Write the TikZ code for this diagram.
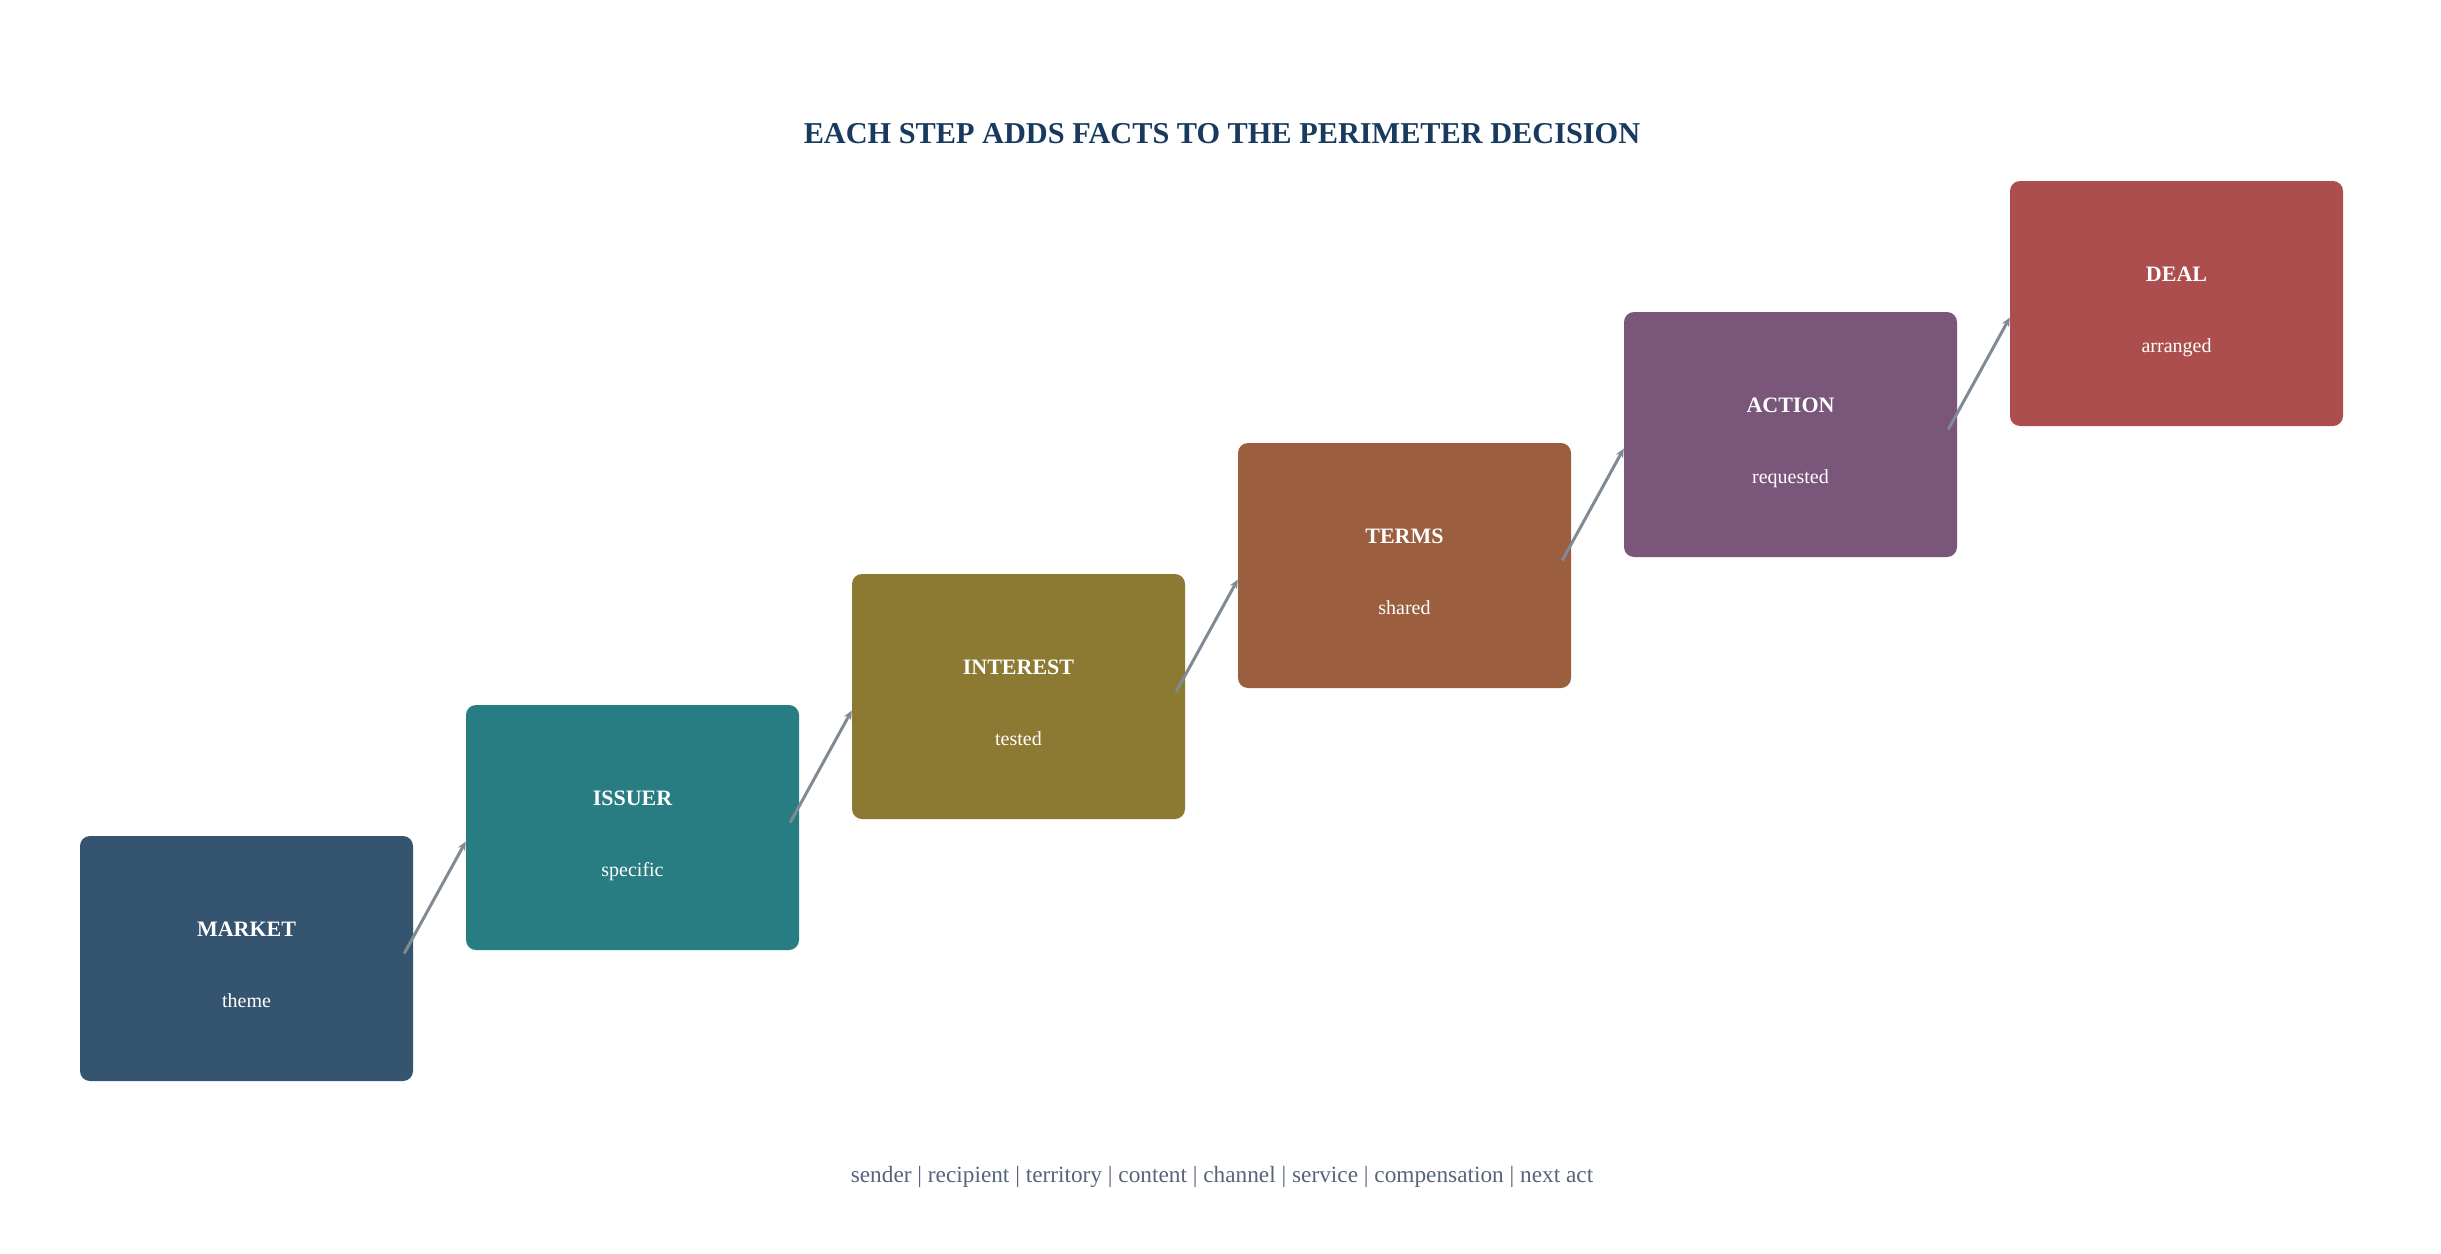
\documentclass[tikz,border=0pt]{standalone}
\usepackage{fontspec}
\setmainfont{Liberation Serif}
\usetikzlibrary{arrows.meta}
\definecolor{cMarket}{HTML}{35546F}
\definecolor{cIssuer}{HTML}{277D81}
\definecolor{cInterest}{HTML}{8C7A33}
\definecolor{cTerms}{HTML}{9B5F3F}
\definecolor{cAction}{HTML}{7A567A}
\definecolor{cDeal}{HTML}{AC4E4E}
\definecolor{cTitle}{HTML}{173A5E}
\definecolor{cFoot}{HTML}{56657A}
\definecolor{cArrow}{HTML}{7F8A94}
\tikzset{
  stagebox/.style={draw=none, fill=#1, rounded corners=10pt, minimum width=333pt, minimum height=245pt, inner sep=0pt},
  headtext/.style={text=white, font=\fontsize{22}{26}\selectfont\bfseries, anchor=base, inner sep=0pt},
  subtext/.style={text=white, font=\fontsize{20}{24}\selectfont, anchor=base, inner sep=0pt},
  flow/.style={draw=cArrow, line width=3pt, -{Stealth[length=9pt,width=8pt]}},
}
\begin{document}
\begin{tikzpicture}[x=1pt,y=-1pt]
\useasboundingbox[fill=white] (0,0) rectangle (2441,1253);
\node[font=\fontsize{30.3}{36}\selectfont\bfseries, text=cTitle, anchor=base, inner sep=0pt] (title) at (1222,143) {EACH STEP ADDS FACTS TO THE PERIMETER DECISION};
\foreach \name/\col/\head/\sub [count=\i from 0] in {market/cMarket/MARKET/theme, issuer/cIssuer/ISSUER/specific, interest/cInterest/INTEREST/tested, terms/cTerms/TERMS/shared, action/cAction/ACTION/requested, deal/cDeal/DEAL/arranged}{
  \node[stagebox=\col] (\name) at ({246.5+386*\i},{958.5-131*\i}) {};
  \node[headtext] (\name-h) at ([yshift=22.5pt]\name.center) {\head};
  \node[subtext] (\name-s) at ([yshift=-49pt]\name.center) {\sub};
}
\foreach \a/\b in {market/issuer, issuer/interest, interest/terms, terms/action, action/deal}{
  \draw[flow] ([shift={(-9,-5)}]\a.east) -- ([shift={(0,14)}]\b.west);
}
\node[font=\fontsize{23.3}{28}\selectfont, text=cFoot, anchor=base, inner sep=0pt] (footer) at (1222,1182) {sender | recipient | territory | content | channel | service | compensation | next act};
\end{tikzpicture}
\end{document}
